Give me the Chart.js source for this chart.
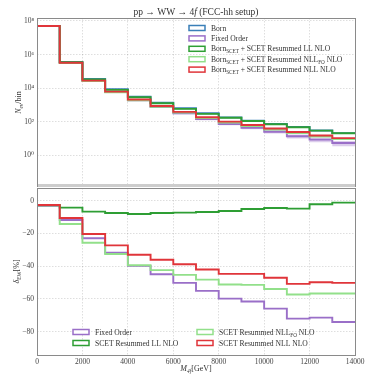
<!DOCTYPE html>
<html>
<head>
<meta charset="utf-8">
<script src="https://cdn.jsdelivr.net/npm/chart.js@4.4.1/dist/chart.umd.min.js"></script>
<style>
  html, body { margin: 0; padding: 0; background: #fff; }
  #wrap { position: relative; width: 374px; height: 374px; }
  .pane { position: absolute; left: 0; width: 374px; height: 187px; }
</style>
</head>
<body>
<div id="wrap">
  <div class="pane" style="top:0"><canvas id="top"></canvas></div>
  <div class="pane" style="top:187px"><canvas id="bot"></canvas></div>
</div>
<script>
// bin edges (GeV)
var edges = [0, 1000, 2000, 3000, 4000, 5000, 6000, 7000, 8000, 9000, 10000, 11000, 12000, 13000, 14000];
var xTicks = [0, 2000, 4000, 6000, 8000, 10000, 12000, 14000];
var logTicks = [1, 1e2, 1e4, 1e6, 1e8];
var deltaTicks = [0, -20, -40, -60, -80];

// N_ev / bin (upper panel)
var born = [5.1e7, 3.6e5, 3.5e4, 8500, 3100, 1350, 630, 316, 182, 115, 74, 49, 30, 21];
var fixedOrder = [4.93e7, 3.18e5, 2.7e4, 5800, 1870, 744, 314, 142, 73, 44, 25.2, 13.7, 8.6, 5.4];
var foHigh = [5.1e7, 3.3e5, 2.8e4, 6100, 2000, 800, 345, 160, 84, 52, 30.5, 17, 11, 7.2];
var foLow = [4.75e7, 3.05e5, 2.55e4, 5500, 1740, 680, 282, 124, 61, 35.5, 19.5, 10, 6, 3.4];
var resLL = [4.96e7, 3.45e5, 3.27e4, 7850, 2850, 1247, 584, 294, 171, 109, 70.7, 46.6, 29.3, 20.7];
var resNLLfo = [4.95e7, 3.09e5, 2.6e4, 5730, 1880, 778, 345, 164, 88.8, 55.9, 34.1, 20.9, 13.0, 9.1];
var resNLL = [4.96e7, 3.22e5, 2.79e4, 6180, 2080, 863, 386, 183, 101, 63.6, 39.1, 24.1, 15.1, 10.5];

// delta_EW [%] (lower panel)
var dFO = [-3.3, -11.8, -23, -31.8, -39.8, -44.9, -50.2, -55.1, -59.8, -61.6, -65.9, -72, -71.4, -74.1];
var dLL = [-2.7, -4.3, -6.7, -7.6, -8.2, -7.6, -7.3, -6.9, -6.3, -5.1, -4.5, -4.9, -2.2, -1.2];
var dNLLfo = [-3, -14.3, -25.7, -32.6, -39.4, -42.4, -45.3, -48.2, -51.2, -51.4, -53.9, -57.3, -56.7, -56.7];
var dNLL = [-2.7, -10.6, -20.4, -27.3, -33, -36.1, -38.8, -42, -44.7, -44.7, -47.1, -50.8, -49.8, -50.2];

var C = {
  born: '#3a7fb8', fo: '#9a6fc8', ll: '#2e9e34', nllfo: '#92e08a', nll: '#e0353a'
};
var SERIF = '"Liberation Serif", "DejaVu Serif", serif';
var YMIN = 0.0129, YMAX = 1.5e8;

// histogram steps from the bin values
function steps(vals, start) {
  var pts = [];
  if (start != null) pts.push({ x: edges[0], y: start });
  vals.forEach(function (v, i) { pts.push({ x: edges[i], y: v }); });
  pts.push({ x: edges[vals.length], y: vals[vals.length - 1] });
  return pts;
}

function line(vals, color, order, start) {
  return {
    data: steps(vals, start), stepped: 'before', borderColor: color, borderWidth: 1.9,
    pointRadius: 0, fill: false, order: order
  };
}

// text with sub/superscripts: parts = [[text, kind]], kind: '' | 'i' | 's' | 'si'
function rich(ctx, parts, x, y, size, align) {
  function font(k) {
    var sz = (k == 's' || k == 'si') ? size * 0.68 : size;
    return ((k == 'i' || k == 'si') ? 'italic ' : '') + sz + 'px ' + SERIF;
  }
  var w = 0;
  parts.forEach(function (p) { ctx.font = font(p[1]); w += ctx.measureText(p[0]).width; });
  var cx = align == 'center' ? x - w / 2 : x;
  ctx.textAlign = 'left';
  ctx.textBaseline = 'alphabetic';
  parts.forEach(function (p) {
    ctx.font = font(p[1]);
    var dy = (p[1] == 's' || p[1] == 'si') ? size * 0.25 : 0;
    ctx.fillText(p[0], cx, y + dy);
    cx += ctx.measureText(p[0]).width;
  });
}

function legendBox(ctx, x, y, color) {
  ctx.fillStyle = '#fff';
  ctx.fillRect(x, y - 2.5, 16, 5);
  ctx.strokeStyle = color;
  ctx.lineWidth = 1.5;
  ctx.strokeRect(x, y - 2.5, 16, 5);
}

function frame(chart) {
  var a = chart.chartArea, ctx = chart.ctx;
  ctx.save();
  ctx.strokeStyle = '#8a8a8a';
  ctx.lineWidth = 1;
  ctx.strokeRect(Math.round(a.left) + 0.5, Math.round(a.top) + 0.5, a.right - a.left, a.bottom - a.top);
  ctx.restore();
}

function noPad(s) {
  s.paddingTop = 0; s.paddingBottom = 0; s.paddingLeft = 0; s.paddingRight = 0;
}

function xScale(showLabels) {
  return {
    type: 'linear', min: 0, max: 14000,
    afterBuildTicks: function (s) { s.ticks = xTicks.map(function (v) { return { value: v }; }); },
    afterFit: function (s) { s.height = showLabels ? 10 : 0; noPad(s); },
    ticks: {
      display: showLabels, color: '#444', font: { family: SERIF, size: 7.5 }, padding: 3, maxRotation: 0,
      callback: function (v) { return String(v); }
    },
    grid: { color: 'rgba(0,0,0,0.13)', drawTicks: false },
    border: { display: false, dash: [1.5, 1.5] }
  };
}

var topPlugin = {
  id: 'topDecor',
  afterDraw: function (chart) {
    var ctx = chart.ctx, a = chart.chartArea;
    ctx.save();
    ctx.fillStyle = '#cdcdcd';
    ctx.fillRect(a.left, a.bottom - 3, a.right - a.left, 3);
    ctx.restore();
    frame(chart);
    ctx.save();
    ctx.fillStyle = '#333';
    rich(ctx, [['pp \u2192 WW \u2192 4', ''], ['f', 'i'], [' (FCC-hh setup)', '']], (a.left + a.right) / 2, 15, 9.5, 'center');
    ctx.translate(21, (a.top + a.bottom) / 2);
    ctx.rotate(-Math.PI / 2);
    rich(ctx, [['N', 'i'], ['ev', 'si'], ['/bin', '']], 0, 0, 8, 'center');
    ctx.restore();
    var rows = [
      [C.born, [['Born', '']]],
      [C.fo, [['Fixed Order', '']]],
      [C.ll, [['Born', ''], ['SCET', 's'], [' + SCET Resummed LL NLO', '']]],
      [C.nllfo, [['Born', ''], ['SCET', 's'], [' + SCET Resummed NLL', ''], ['FO', 's'], [' NLO', '']]],
      [C.nll, [['Born', ''], ['SCET', 's'], [' + SCET Resummed NLL NLO', '']]]
    ];
    ctx.save();
    rows.forEach(function (r, i) {
      var y = 28 + i * 10.4;
      legendBox(ctx, 189, y, r[0]);
      ctx.fillStyle = '#333';
      rich(ctx, r[1], 211, y + 2.6, 7.6, 'left');
    });
    ctx.restore();
  }
};

var botPlugin = {
  id: 'botDecor',
  afterDraw: function (chart) {
    var ctx = chart.ctx, a = chart.chartArea;
    frame(chart);
    ctx.save();
    ctx.fillStyle = '#333';
    rich(ctx, [['M', 'i'], ['4f', 'si'], ['[GeV]', '']], (a.left + a.right) / 2, 184, 8, 'center');
    ctx.translate(19, (a.top + a.bottom) / 2);
    ctx.rotate(-Math.PI / 2);
    rich(ctx, [['\u03b4', 'i'], ['EW', 's'], ['[%]', '']], 0, 0, 8, 'center');
    ctx.restore();
    var items = [
      [C.fo, 73, 145, [['Fixed Order', '']]],
      [C.ll, 73, 156, [['SCET Resummed LL NLO', '']]],
      [C.nllfo, 197, 145, [['SCET Resummed NLL', ''], ['FO', 's'], [' NLO', '']]],
      [C.nll, 197, 156, [['SCET Resummed NLL NLO', '']]]
    ];
    ctx.save();
    items.forEach(function (r) {
      legendBox(ctx, r[1], r[2], r[0]);
      ctx.fillStyle = '#333';
      rich(ctx, r[3], r[1] + 22, r[2] + 2.6, 7.6, 'left');
    });
    ctx.restore();
  }
};

// bovenste paneel (log)
function topPanel() {
  var ctx = document.getElementById('top');
  new Chart(ctx, {
    type: 'line',
    data: {
      datasets: [
        { data: steps(foHigh), stepped: 'before', borderWidth: 0, pointRadius: 0, fill: '+1',
          backgroundColor: 'rgba(154,111,200,0.35)', order: 9 },
        { data: steps(foLow), stepped: 'before', borderWidth: 0, pointRadius: 0, fill: false, order: 9 },
        line(born, C.born, 5),
        line(fixedOrder, C.fo, 4),
        line(resNLLfo, C.nllfo, 3),
        line(resLL, C.ll, 2),
        line(resNLL, C.nll, 1, YMIN)
      ]
    },
    options: {
      responsive: true, maintainAspectRatio: false, animation: false,
      layout: { padding: { top: 18, right: 19, bottom: 0, left: 0 } },
      scales: {
        x: xScale(false),
        y: {
          type: 'logarithmic', min: YMIN, max: YMAX,
          afterBuildTicks: function (s) { s.ticks = logTicks.map(function (v) { return { value: v }; }); },
          afterFit: function (s) { s.width = 37; noPad(s); },
          ticks: {
            color: '#444', font: { family: SERIF, size: 7.5 }, padding: 3,
            callback: function (v) {
              var sup = { 0: '\u2070', 2: '\u00b2', 4: '\u2074', 6: '\u2076', 8: '\u2078' };
              return '10' + sup[Math.round(Math.log10(v))];
            }
          },
          grid: { color: 'rgba(0,0,0,0.13)', drawTicks: false },
          border: { display: false, dash: [1.5, 1.5] }
        }
      },
      plugins: { legend: { display: false }, tooltip: { enabled: false } }
    },
    plugins: [topPlugin]
  });
}

// onderste paneel (delta_EW)
function botPanel() {
  var ctx = document.getElementById('bot');
  new Chart(ctx, {
    type: 'line',
    data: {
      datasets: [
        line(dFO, C.fo, 4),
        line(dNLLfo, C.nllfo, 3),
        line(dLL, C.ll, 2),
        line(dNLL, C.nll, 1)
      ]
    },
    options: {
      responsive: true, maintainAspectRatio: false, animation: false,
      layout: { padding: { top: 1, right: 19, bottom: 9, left: 0 } },
      scales: {
        x: xScale(true),
        y: {
          type: 'linear', min: -94.2, max: 7.7,
          afterBuildTicks: function (s) { s.ticks = deltaTicks.map(function (v) { return { value: v }; }); },
          afterFit: function (s) { s.width = 37; noPad(s); },
          ticks: {
            color: '#444', font: { family: SERIF, size: 7.5 }, padding: 3,
            callback: function (v) { return String(v).replace('-', '\u2212'); }
          },
          grid: { color: 'rgba(0,0,0,0.13)', drawTicks: false },
          border: { display: false, dash: [1.5, 1.5] }
        }
      },
      plugins: { legend: { display: false }, tooltip: { enabled: false } }
    },
    plugins: [botPlugin]
  });
}

window.onload = function () {
  topPanel();
  botPanel();
};
</script>
</body>
</html>
